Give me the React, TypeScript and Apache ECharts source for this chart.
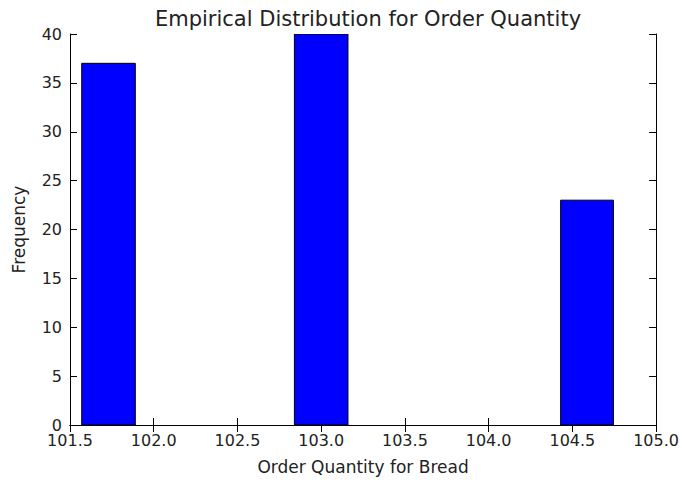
import React, { useEffect, useRef } from "react";
import * as echarts from "echarts";

const binStarts = [101.57, 102.84, 104.43];
const binEnds = [101.89, 103.16, 104.745];
const counts = [37, 40, 23];

const xMin = 101.5;
const xMax = 105.0;
const xStep = 0.5;
const yMin = 0;
const yMax = 40;
const yStep = 5;

const titleText = "Empirical Distribution for Order Quantity";
const xName = "Order Quantity for Bread";
const yName = "Frequency";

const FONT = "DejaVu Sans";
const TXT = "#222";

export default function App() {
  const ref = useRef<HTMLDivElement>(null);
  useEffect(() => {
    if (!ref.current) return;
    const chart = echarts.init(ref.current, undefined, { renderer: "svg" });
    const data = binStarts.map((s, i) => [s, binEnds[i], counts[i]]);
    const axisLine = { show: true, lineStyle: { color: "#000", width: 1 } };
    const tick = { show: true, inside: true, length: 7, lineStyle: { color: "#000", width: 1 } };
    const label = { color: TXT, fontFamily: FONT, fontSize: 16 };
    chart.setOption({
      animation: false,
      backgroundColor: "#fff",
      textStyle: { fontFamily: FONT },
      title: {
        text: titleText,
        left: 363,
        textAlign: "center",
        top: 3,
        textStyle: { fontFamily: FONT, fontSize: 21, fontWeight: "normal", color: TXT },
      },
      grid: { left: 70, right: 25, top: 34, bottom: 57, containLabel: false },
      xAxis: [
        {
          type: "value",
          position: "bottom",
          min: xMin,
          max: xMax,
          interval: xStep,
          axisLine,
          axisTick: tick,
          splitLine: { show: false },
          axisLabel: { ...label, margin: 7, formatter: (v: number) => v.toFixed(1), showMinLabel: true, showMaxLabel: true },
          name: xName,
          nameLocation: "middle",
          nameGap: 33,
          nameTextStyle: { color: TXT, fontFamily: FONT, fontSize: 17 },
        },
        {
          type: "value",
          position: "top",
          min: xMin,
          max: xMax,
          interval: xStep,
          axisLine,
          axisTick: tick,
          splitLine: { show: false },
          axisLabel: { show: false },
        },
      ],
      yAxis: [
        {
          type: "value",
          position: "left",
          min: yMin,
          max: yMax,
          interval: yStep,
          axisLine,
          axisTick: tick,
          splitLine: { show: false },
          axisLabel: { ...label, margin: 8 },
          name: yName,
          nameLocation: "middle",
          nameGap: 43,
          nameRotate: 90,
          nameTextStyle: { color: TXT, fontFamily: FONT, fontSize: 17 },
        },
        {
          type: "value",
          position: "right",
          min: yMin,
          max: yMax,
          interval: yStep,
          axisLine,
          axisTick: tick,
          splitLine: { show: false },
          axisLabel: { show: false },
        },
      ],
      series: [
        {
          type: "custom",
          xAxisIndex: 0,
          yAxisIndex: 0,
          clip: true,
          encode: { x: [0, 1], y: 2 },
          data,
          renderItem: (params: any, api: any) => {
            const s = api.value(0);
            const e = api.value(1);
            const c = api.value(2);
            const p0 = api.coord([s, c]);
            const p1 = api.coord([e, 0]);
            return {
              type: "rect",
              shape: { x: p0[0], y: p0[1], width: p1[0] - p0[0], height: p1[1] - p0[1] },
              style: { fill: "#0000ff", stroke: "#000", lineWidth: 1 },
            };
          },
        },
      ],
    });
    return () => chart.dispose();
  }, []);
  return <div ref={ref} style={{ position: "fixed", left: 0, top: 0, width: 682, height: 482 }} />;
}
